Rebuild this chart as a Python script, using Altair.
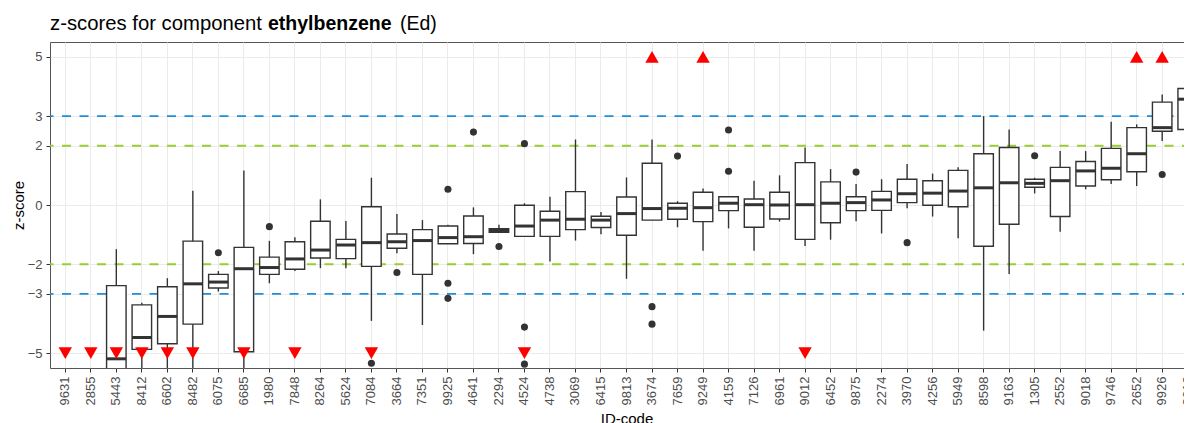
import altair as alt
import pandas as pd

ids = ["9631", "2855", "5443", "8412", "6602", "8482", "6075", "6685", "1980", "7848",
       "8264", "5624", "7084", "3664", "7351", "9925", "4641", "2294", "4524", "4738",
       "3069", "6415", "9813", "3674", "7659", "9249", "4159", "7126", "6961", "9012",
       "6452", "9875", "2274", "3970", "4256", "5949", "8598", "9163", "1305", "2552",
       "9018", "9746", "2652", "9926", "3616"]
whisker_low = [-9.5, -9.0, -7.5, -6.5, -6.5, -6.5, -2.92, -7.0, -2.64, -2.23,
               -2.13, -2.13, -3.91, -1.63, -4.05, -1.31, -1.66, -0.92, -1.06, -1.91,
               -1.20, -0.99, -2.49, -0.51, -0.75, -1.54, -0.79, -1.54, -0.56, -1.38,
               -1.17, -0.55, -0.96, -0.11, -0.39, -1.12, -4.24, -2.33, 0.39, -0.90,
               0.53, 0.71, 0.64, 2.16, 2.08]
q1 = [-8.5, -8.0, -6.2, -4.87, -4.68, -4.02, -2.80, -4.95, -2.34, -2.17,
      -1.79, -1.81, -2.07, -1.46, -2.34, -1.31, -1.30, -0.92, -1.06, -1.06,
      -0.83, -0.76, -1.02, -0.51, -0.48, -0.56, -0.19, -0.75, -0.47, -1.16,
      -0.60, -0.19, -0.18, 0.08, -0.01, -0.06, -1.39, -0.65, 0.60, -0.39,
      0.64, 0.85, 1.12, 2.49, 2.55]
median = [-8.0, -7.5, -5.19, -4.47, -3.76, -2.66, -2.60, -2.15, -2.11, -1.82,
          -1.52, -1.35, -1.27, -1.24, -1.20, -1.10, -1.07, -0.86, -0.71, -0.51,
          -0.48, -0.51, -0.29, -0.12, -0.11, -0.09, 0.06, 0.01, 0.0, 0.01,
          0.06, 0.08, 0.17, 0.38, 0.40, 0.47, 0.58, 0.75, 0.73, 0.82,
          1.15, 1.24, 1.73, 2.61, 3.57]
q3 = [-7.2, -7.0, -2.72, -3.37, -2.76, -1.22, -2.34, -1.43, -1.76, -1.24,
      -0.55, -1.16, -0.06, -0.98, -0.83, -0.71, -0.37, -0.80, -0.01, -0.21,
      0.45, -0.38, 0.27, 1.41, 0.06, 0.43, 0.28, 0.20, 0.43, 1.43,
      0.78, 0.28, 0.46, 0.87, 0.82, 1.17, 1.73, 1.94, 0.87, 1.27,
      1.47, 1.91, 2.61, 3.47, 3.93]
whisker_high = [-6.2, -6.0, -1.49, -3.30, -2.47, 0.48, -2.23, 1.16, -1.21, -1.09,
                0.19, -0.54, 0.92, -0.30, -0.51, -0.67, -0.08, -0.67, 0.06, 0.28,
                2.21, -0.24, 0.93, 2.21, 0.13, 0.56, 0.28, 0.82, 1.0, 1.94,
                1.21, 0.71, 0.87, 1.38, 1.06, 1.27, 3.0, 2.55, 0.92, 1.82,
                1.82, 2.81, 2.72, 3.73, 4.87]

outlier_ids = ["6075", "1980", "7084", "3664", "9925", "9925", "9925", "4641", "2294",
               "4524", "4524", "4524", "3674", "3674", "7659", "4159", "4159", "9875",
               "3970", "1305", "9926"]
outlier_values = [-1.61, -0.73, -5.34, -2.28, 0.53, -2.64, -3.15, 2.46, -1.40,
                  2.07, -4.12, -5.37, -3.43, -4.02, 1.65, 2.53, 1.14, 1.11,
                  -1.27, 1.66, 1.03]

above_ids = ["3674", "9249", "2652", "9926"]
below_ids = ["9631", "2855", "5443", "8412", "6602", "8482", "6685", "7848", "7084",
             "4524", "9012"]
flag_high = 5
flag_low = -5
action_limits = [3, -3]
warning_limits = [2, -2]
y_ticks = [-5, -3, -2, 0, 2, 3, 5]

FONT = "Liberation Sans"
DARK = "#333333"

box_df = pd.DataFrame({"id": ids, "lo": whisker_low, "q1": q1, "med": median,
                       "q3": q3, "hi": whisker_high})
out_df = pd.DataFrame({"id": outlier_ids, "v": outlier_values})
flag_df = pd.DataFrame({
    "id": above_ids + below_ids,
    "v": [flag_high] * len(above_ids) + [flag_low] * len(below_ids),
    "dir": ["up"] * len(above_ids) + ["down"] * len(below_ids),
})
action_df = pd.DataFrame({"v": action_limits})
warning_df = pd.DataFrame({"v": warning_limits})

x_scale = alt.Scale(domain=ids, paddingInner=0, paddingOuter=0.1)
y_scale = alt.Scale(domain=[-5.5, 5.5], nice=False, zero=False)

x_axis = alt.Axis(
    title="ID-code", labelAngle=270, labelFontSize=13, labelColor="#4d4d4d",
    labelFont=FONT, labelPadding=4, labelOverlap=False, labelBound=False,
    tickColor=DARK, tickSize=4, tickWidth=1, domain=False,
    grid=True, gridColor="#ebebeb", gridWidth=1, bandPosition=0.5,
    titleFont=FONT, titleFontSize=15, titleFontWeight="normal", titleColor="black",
    titleY=55, titleBaseline="alphabetic",
)
y_axis = alt.Axis(
    title="z-score", values=y_ticks, labelFontSize=13, labelColor="#4d4d4d",
    labelFont=FONT, labelPadding=4, tickColor=DARK, tickSize=4, tickWidth=1,
    domain=False, grid=True, gridColor="#ebebeb", gridWidth=1,
    titleFont=FONT, titleFontSize=15, titleFontWeight="normal", titleColor="black",
    titleAngle=270, titleX=-32, titleY=163, titleAlign="center", titleBaseline="middle",
)

X = alt.X("id:N", sort=ids, scale=x_scale, axis=x_axis)


def Y(field):
    return alt.Y(field, scale=y_scale, axis=y_axis)


base = alt.Chart(box_df)

action_layer = alt.Chart(action_df).mark_rule(
    color="#1f8fdc", strokeWidth=1.8, strokeDash=[9, 8.5], strokeDashOffset=5.5
).encode(y=Y("v:Q"))

warning_layer = alt.Chart(warning_df).mark_rule(
    color="#9acd32", strokeWidth=1.8, strokeDash=[9, 8.5], strokeDashOffset=5.5
).encode(y=Y("v:Q"))

whisker_layer = base.mark_rule(color=DARK, strokeWidth=1.4, clip=True).encode(
    x=X, y=Y("lo:Q"), y2="hi:Q",
)

box_layer = base.mark_bar(size=19.5, fill="white", stroke=DARK, strokeWidth=1.4,
                          clip=True).encode(x=X, y=Y("q1:Q"), y2="q3:Q")

median_layer = base.mark_tick(size=19.5, thickness=3, color=DARK, opacity=1,
                              clip=True).encode(x=X, y=Y("med:Q"))

outlier_layer = alt.Chart(out_df).mark_circle(size=50, color=DARK, opacity=1,
                                               clip=True).encode(x=X, y=Y("v:Q"))

flag_layer = alt.Chart(flag_df).mark_point(filled=True, size=180, color="#ff0000",
                                           opacity=1).encode(
    x=X, y=Y("v:Q"),
    shape=alt.Shape("dir:N", scale=alt.Scale(domain=["up", "down"],
                                              range=["triangle-up", "triangle-down"]),
                    legend=None),
)

one = pd.DataFrame({"k": [0]})
title1 = alt.Chart(one).mark_text(
    text="z-scores for component", align="left", baseline="alphabetic",
    font=FONT, fontSize=20.3, color="black"
).encode(x=alt.value(0), y=alt.value(-12.5))
title2 = alt.Chart(one).mark_text(
    text="ethylbenzene", align="left", baseline="alphabetic",
    font=FONT, fontSize=19.5, fontWeight="bold", color="black"
).encode(x=alt.value(218), y=alt.value(-12.5))
title3 = alt.Chart(one).mark_text(
    text="(Ed)", align="left", baseline="alphabetic",
    font=FONT, fontSize=19.5, color="black"
).encode(x=alt.value(350), y=alt.value(-12.5))

chart = alt.layer(
    action_layer, warning_layer, whisker_layer, box_layer,
    median_layer, outlier_layer, flag_layer, title1, title2, title3,
).properties(
    width=1153, height=326,
    autosize=alt.AutoSizeParams(type="none"),
    padding={"left": 42, "top": 34, "right": -19, "bottom": 55},
    background="white",
).configure_view(stroke="#555555", strokeWidth=1)

chart.save("out.html", embed_options={"renderer": "svg", "actions": False})
